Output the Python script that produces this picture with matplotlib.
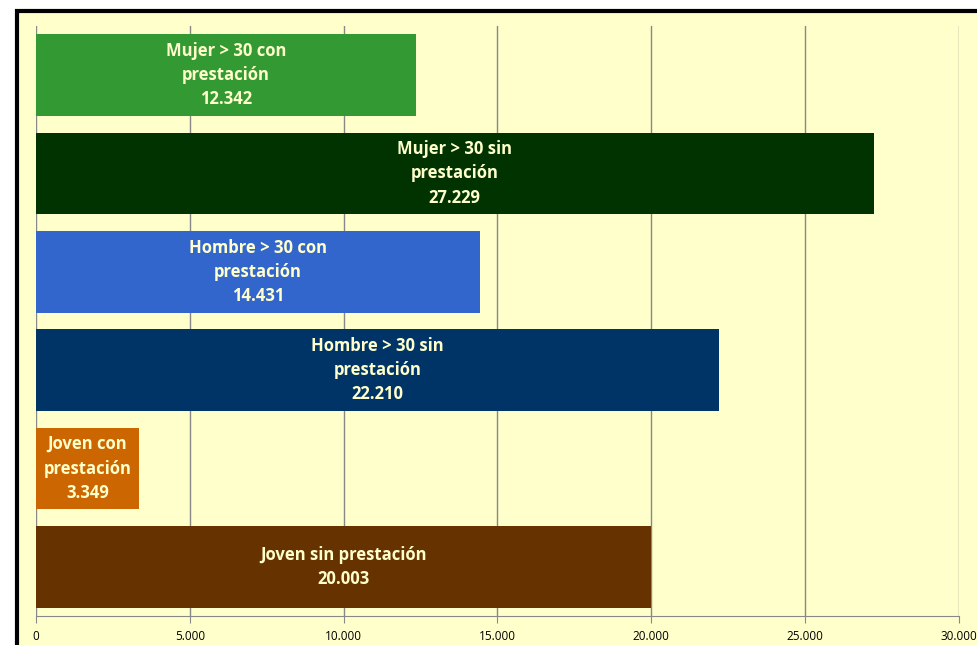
import matplotlib.pyplot as plt
from matplotlib.patches import Rectangle

# Data (top to bottom as shown)
categories = ["Mujer > 30 con\nprestación", "Mujer > 30 sin\nprestación",
              "Hombre > 30 con\nprestación", "Hombre > 30 sin\nprestación",
              "Joven con\nprestación", "Joven sin prestación"]
values = [12342, 27229, 14431, 22210, 3349, 20003]
colors = ["#339933", "#003300", "#3366CC", "#003366", "#CC6600", "#663300"]
xticks = [0, 5000, 10000, 15000, 20000, 25000, 30000]


def fmt(v):
    return f"{v:,}".replace(",", ".")


W, H = 978, 645
fig = plt.figure(figsize=(W / 100, H / 100), dpi=100, facecolor="white")

# chart area background with black frame (clipped on right/bottom)
fig.patches.append(Rectangle((17 / W, -0.05), 1.1, 1 - 11 / H + 0.05,
                             transform=fig.transFigure, facecolor="#FFFFCC",
                             edgecolor="black", linewidth=3, zorder=-10))

ax = fig.add_axes([36 / W, 1 - 616 / H, (959 - 36) / W, (616 - 26) / H])
ax.set_facecolor("none")

ypos = list(range(len(values)))[::-1]
ax.barh(ypos, values, height=0.83, color=colors, zorder=2)

for y, v, c in zip(ypos, values, categories):
    ax.text(v / 2, y, f"{c}\n{fmt(v)}", ha="center", va="center",
            color="#FFFFCC", fontsize=12, fontweight="bold",
            family="Open Sans", linespacing=1.45, zorder=3)

ax.set_xlim(0, 30000)
ax.set_ylim(-0.5, len(values) - 0.5)
ax.set_xticks(xticks)
ax.set_xticklabels([fmt(t) for t in xticks], fontsize=8.5, family="Open Sans")
ax.set_yticks([])
ax.xaxis.grid(True, color="#888888", linewidth=1, zorder=1)
ax.set_axisbelow(True)
for s in ["top", "right", "left"]:
    ax.spines[s].set_visible(False)
ax.spines["bottom"].set_color("#888888")
ax.tick_params(axis="x", colors="#888888", labelcolor="black", length=5, pad=5)

fig.savefig("out.png", dpi=100, facecolor="white")
